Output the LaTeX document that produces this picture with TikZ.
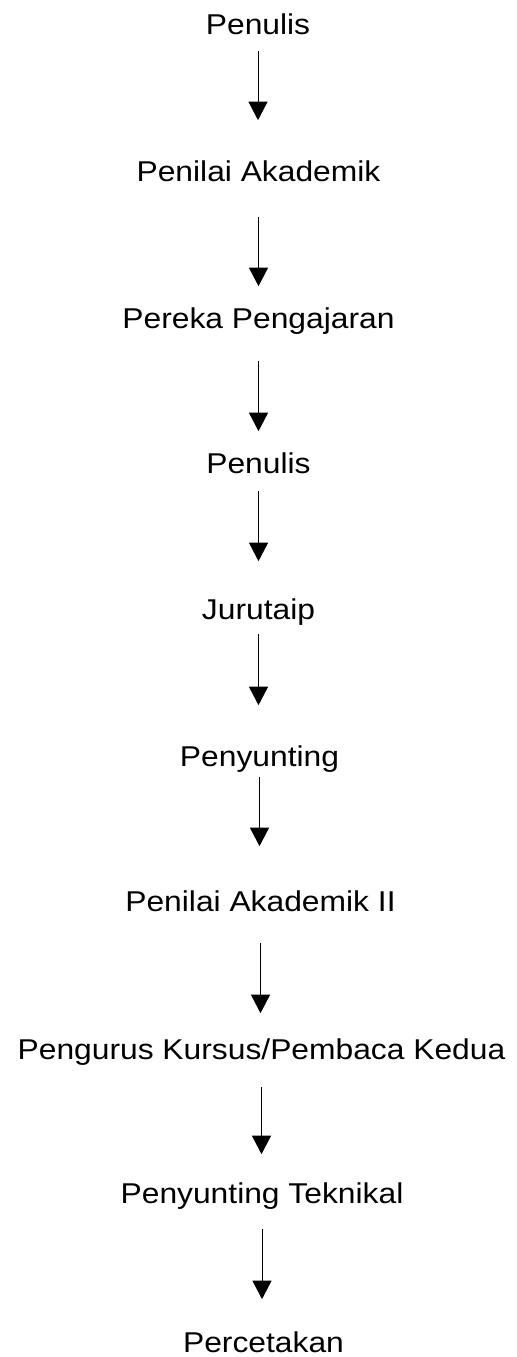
\documentclass[tikz,border=0pt]{standalone}
\usepackage{fontspec}
\setmainfont[FakeStretch=1.11]{Liberation Sans}
\usetikzlibrary{arrows.meta}
\tikzstyle{role}=[inner sep=0pt, anchor=base, text height=0.41cm, text depth=0pt, font=\fontsize{16.3}{19}\selectfont]
\tikzstyle{edge}=[draw, line width=0.02cm, -{Triangle[width=0.38cm,length=0.37cm]}]

\begin{document}
\begin{tikzpicture}

  \def\u{0.02};
  \useasboundingbox (0,0) rectangle (516*\u, -1357*\u);

   \foreach \x/\y/\name/\label in {258/34/penulis/Penulis, 258.5/181/penilai/Penilai Akademik,
          258.5/328/pereka/Pereka Pengajaran, 258.5/473/penulisb/Penulis, 258.5/619/jurutaip/Jurutaip,
          259.5/766/penyunting/Penyunting, 260.5/911/penilaib/Penilai Akademik II,
          261.5/1059/pengurus/{Pengurus Kursus/Pembaca Kedua}, 262/1203/teknikal/Penyunting Teknikal,
          263.5/1352/percetakan/Percetakan}
          \node[role] (\name) at (\x*\u, -\y*\u) {\label};

  \foreach \source/ \dest /\s/\e in {penulis/penilai/0.34cm/0.80cm, penilai/pereka/0.72cm/0.42cm,
          pereka/penulisb/0.66cm/0.42cm, penulisb/jurutaip/0.36cm/0.74cm, jurutaip/penyunting/0.30cm/0.80cm,
          penyunting/penilaib/0.22cm/0.88cm, penilaib/pengurus/0.64cm/0.50cm,
          pengurus/teknikal/0.56cm/0.56cm, teknikal/percetakan/0.52cm/0.64cm}
         \draw[edge, shorten <=\s, shorten >=\e] (\source.south) -- (\source.south |- \dest.north);

\end{tikzpicture}
\end{document}
